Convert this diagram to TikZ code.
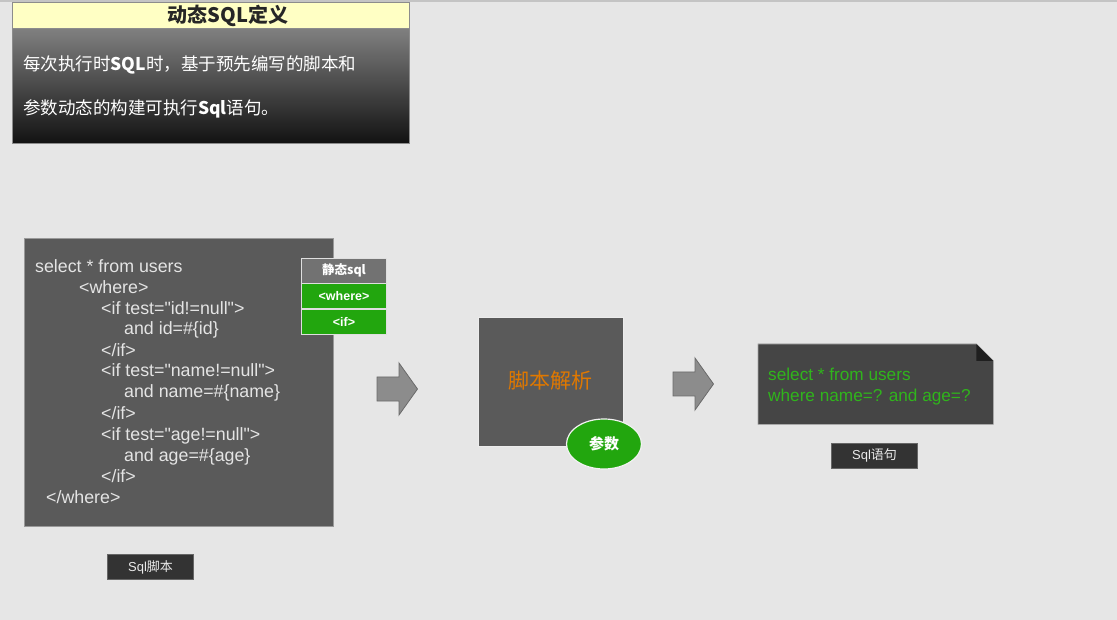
\documentclass[tikz,border=0pt]{standalone}
\usepackage{fontspec}
\setmainfont{Liberation Sans}
\newfontfamily\cjk{Noto Sans CJK SC}
\usetikzlibrary{shapes.geometric}
\definecolor{bg}{HTML}{E6E6E6}
\definecolor{topband}{HTML}{C4C4C4}
\definecolor{panel}{HTML}{5A5A5A}
\definecolor{docbg}{HTML}{454545}
\definecolor{tagg}{HTML}{22A60E}
\definecolor{taggray}{HTML}{727272}
\definecolor{codetxt}{HTML}{E4E4E4}
\definecolor{sqlgreen}{HTML}{30B41C}
\definecolor{orangetxt}{HTML}{E07800}
\definecolor{labelbg}{HTML}{333333}
\definecolor{titleyellow}{HTML}{FFFFC4}
\definecolor{arrowfill}{HTML}{8C8C8C}
\definecolor{arrowline}{HTML}{6A6A6A}
\definecolor{gradtop}{HTML}{808080}
\definecolor{gradbot}{HTML}{121212}
\newcommand{\qq}{\textquotedbl}
\begin{document}
\begin{tikzpicture}[x=1pt,y=-1pt,
  codeline/.style={anchor=base west, inner sep=0pt, text=codetxt, font=\fontsize{17.8}{20}\selectfont},
  tagbox/.style={minimum width=85pt, minimum height=25pt, inner sep=0pt, draw=white!75!gray, line width=0.6pt, text=white, font=\fontsize{12.5}{14}\selectfont\bfseries},
  blockarrow/.style={draw=arrowline, fill=arrowfill, line width=0.8pt, line join=miter},
  caption/.style={fill=labelbg, draw=black!60, line width=0.5pt, text=white!92!black, minimum width=86pt, minimum height=25pt, inner sep=0pt, font=\fontsize{13}{15}\selectfont},
  greenline/.style={anchor=base west, inner sep=0pt, text=sqlgreen, font=\fontsize{17.2}{20}\selectfont}
]
\fill[bg] (0,0) rectangle (1117,620);
\useasboundingbox (0,0) rectangle (1117,620);
\fill[topband] (0,0) rectangle (1117,2);

% definition header
\node[draw=black!45, fill=titleyellow, line width=0.6pt, anchor=north west, minimum width=397pt, minimum height=26pt, inner sep=0pt] (title) at (12,2) {};
\node[anchor=base, inner sep=0pt, text=black!85, font=\cjk\bfseries\fontsize{20}{22}\selectfont] (titletxt) at (228,22.5) {动态SQL定义};
\node[draw=black!45, line width=0.6pt, top color=gradtop, bottom color=gradbot, anchor=north west, minimum width=397pt, minimum height=115pt, inner sep=0pt] (defbox) at (12,28) {};
\node[anchor=base west, inner sep=0pt, text=white, font=\cjk\fontsize{17.5}{19}\selectfont] (def1) at (23,70.5) {每次执行时{\bfseries SQL}时，基于预先编写的脚本和};
\node[anchor=base west, inner sep=0pt, text=white, font=\cjk\fontsize{17.5}{19}\selectfont] (def2) at (23,114.5) {参数动态的构建可执行{\bfseries Sql}语句。};

% code panel
\node[fill=panel, draw=black!40, line width=0.6pt, anchor=north west, minimum width=309pt, minimum height=288pt, inner sep=0pt] (code) at (24,238) {};
\node[codeline] (c1)  at (35,273)  {select * from users};
\node[codeline] (c2)  at (79,294)  {<where>};
\node[codeline] (c3)  at (101,315) {<if test=\qq id!=null\qq>};
\node[codeline] (c4)  at (124,335) {and id=\#\{id\}};
\node[codeline] (c5)  at (101,356) {</if>};
\node[codeline] (c6)  at (101,377) {<if test=\qq name!=null\qq>};
\node[codeline] (c7)  at (124,398) {and name=\#\{name\}};
\node[codeline] (c8)  at (101,419) {</if>};
\node[codeline] (c9)  at (101,440) {<if test=\qq age!=null\qq>};
\node[codeline] (c10) at (124,461) {and age=\#\{age\}};
\node[codeline] (c11) at (101,482) {</if>};
\node[codeline] (c12) at (46,503)  {</where>};

% tags
\node[tagbox, fill=taggray] (tag1) at (344,270.5) {\cjk 静态sql};
\node[tagbox, fill=tagg] (tag2) at (344,296) {<where>};
\node[tagbox, fill=tagg] (tag3) at (344,321.5) {<if>};

\node[caption] (cap1) at (150.5,567) {Sql{\cjk 脚本}};

% block arrows
\coordinate (arr1) at (377,389);
\coordinate (arr2) at (673,384);
\foreach \a in {arr1,arr2}{
  \draw[blockarrow] (\a) ++(0,-12) -- ++(22,0) -- ++(0,-14) -- ++(18.5,26) -- ++(-18.5,26) -- ++(0,-14) -- ++(-22,0) -- cycle;
}

% parser
\node[fill=panel, draw=white!85!gray, line width=0.6pt, anchor=north west, minimum width=145pt, minimum height=129pt, inner sep=0pt] (parse) at (478,317) {};
\node[text=orangetxt, inner sep=0pt, font=\cjk\fontsize{21}{23}\selectfont] (parsetxt) at (550,381) {脚本解析};
\node[ellipse, fill=tagg, draw=white!90!gray, line width=1.2pt, minimum width=75pt, minimum height=50pt, inner sep=0pt, text=white, font=\cjk\bfseries\fontsize{15}{17}\selectfont] (param) at (604,444) {参数};

% result document
\node[anchor=north west, minimum width=235pt, minimum height=80pt, inner sep=0pt] (doc) at (758,344) {};
\fill[docbg] (doc.north west) -- ([xshift=-17pt]doc.north east) -- ([yshift=-17pt]doc.north east) -- (doc.south east) -- (doc.south west) -- cycle;
\draw[black!35, line width=0.6pt] (doc.north west) -- ([xshift=-17pt]doc.north east) -- ([yshift=-17pt]doc.north east) -- (doc.south east) -- (doc.south west) -- cycle;
\fill[black!88] ([xshift=-17pt]doc.north east) -- ([yshift=-17pt]doc.north east) -- ([xshift=-17pt,yshift=-17pt]doc.north east) -- cycle;
\node[greenline] (g1) at (768,381) {select * from users};
\node[greenline] (g2) at (768,402) {where name=? and age=?};

\node[caption] (cap2) at (874.5,455.5) {Sql{\cjk 语句}};
\end{tikzpicture}
\end{document}
